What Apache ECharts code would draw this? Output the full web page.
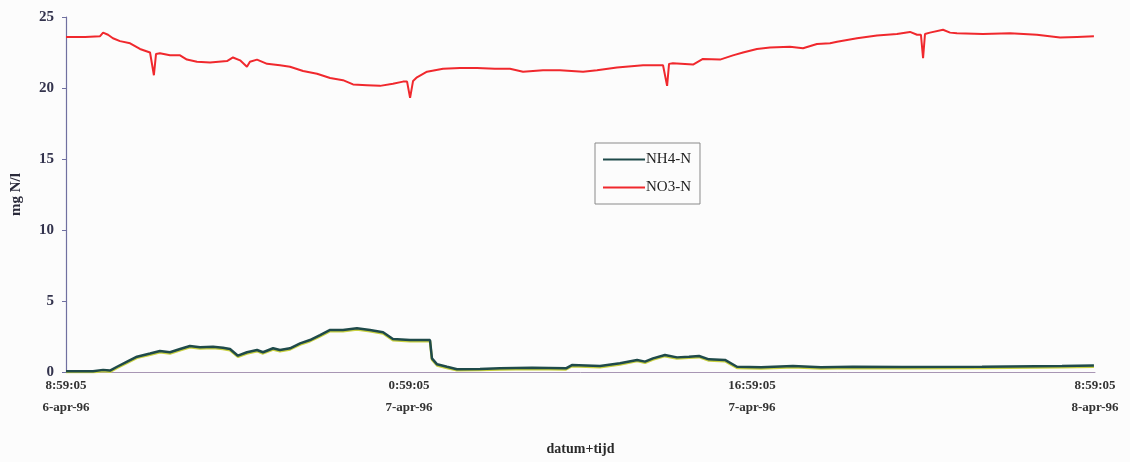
<!DOCTYPE html>
<html>
<head>
<meta charset="utf-8">
<script src="https://cdn.jsdelivr.net/npm/echarts@6/dist/echarts.min.js"></script>
<style>
  html, body { margin: 0; padding: 0; background: #fcfcfc; }
  #chart { width: 1130px; height: 462px; }
</style>
</head>
<body>
<div id="chart"></div>
<script>
// Hours since 6-apr-96 8:59:05
const xTickLabels = ['8:59:05\n6-apr-96', '0:59:05\n7-apr-96', '16:59:05\n7-apr-96', '8:59:05\n8-apr-96'];
const yTicks = [0, 5, 10, 15, 20, 25];

const no3Hours = [0, 0.89, 1.59, 1.73, 1.96, 2.19, 2.52, 2.99, 3.45, 3.92, 4.01, 4.10, 4.20, 4.38, 4.85, 5.32, 5.64, 6.11, 6.72, 7.51, 7.79, 8.12, 8.44, 8.58, 8.91, 9.38, 9.98, 10.45, 11.06, 11.71, 12.32, 12.92, 13.39, 14.04, 14.65, 15.25, 15.72, 15.91, 16.05, 16.19, 16.37, 16.84, 17.59, 18.38, 19.17, 20.01, 20.71, 21.32, 22.25, 23.04, 24.12, 24.77, 25.70, 26.92, 27.85, 27.94, 28.04, 28.13, 28.31, 29.25, 29.71, 30.51, 31.11, 31.58, 32.23, 32.84, 33.77, 34.38, 35.03, 35.64, 35.97, 36.90, 37.83, 38.76, 39.37, 39.70, 39.88, 39.98, 40.07, 40.30, 40.91, 41.24, 41.56, 42.77, 44.04, 45.29, 46.37, 47.16, 47.95];
const no3Values = [23.6, 23.6, 23.65, 23.9, 23.75, 23.5, 23.3, 23.15, 22.75, 22.5, 22.45, 20.9, 22.4, 22.45, 22.3, 22.3, 22.0, 21.85, 21.8, 21.9, 22.15, 21.95, 21.5, 21.85, 22.0, 21.7, 21.6, 21.5, 21.2, 21.0, 20.7, 20.55, 20.25, 20.2, 20.15, 20.3, 20.45, 20.45, 19.3, 20.5, 20.75, 21.15, 21.35, 21.4, 21.4, 21.35, 21.35, 21.15, 21.25, 21.25, 21.15, 21.25, 21.45, 21.6, 21.6, 21.55, 20.15, 21.7, 21.75, 21.65, 22.05, 22.0, 22.3, 22.5, 22.75, 22.85, 22.9, 22.8, 23.1, 23.15, 23.25, 23.5, 23.7, 23.8, 23.95, 23.75, 23.75, 22.1, 23.8, 23.9, 24.1, 23.9, 23.85, 23.8, 23.85, 23.75, 23.55, 23.6, 23.65];

const nh4Hours = [0, 1.26, 1.73, 2.05, 2.38, 2.85, 3.31, 3.92, 4.38, 4.85, 5.32, 5.78, 6.25, 6.86, 7.32, 7.65, 8.02, 8.44, 8.91, 9.19, 9.66, 9.98, 10.45, 10.92, 11.38, 11.85, 12.32, 12.92, 13.57, 14.18, 14.79, 15.25, 16.05, 16.98, 17.07, 17.31, 17.77, 18.24, 19.31, 20.24, 21.74, 23.32, 23.60, 24.91, 25.84, 26.64, 27.01, 27.38, 27.94, 28.50, 29.06, 29.53, 29.99, 30.74, 31.30, 32.42, 33.91, 35.22, 36.71, 39.00, 42.73, 46.46, 47.95];
const nh4Values = [0.05, 0.05, 0.15, 0.1, 0.37, 0.73, 1.08, 1.3, 1.48, 1.39, 1.62, 1.83, 1.74, 1.78, 1.71, 1.62, 1.15, 1.39, 1.55, 1.39, 1.67, 1.55, 1.67, 2.02, 2.25, 2.6, 2.96, 2.96, 3.08, 2.96, 2.8, 2.32, 2.25, 2.25, 0.96, 0.54, 0.37, 0.2, 0.22, 0.26, 0.3, 0.26, 0.49, 0.42, 0.61, 0.85, 0.73, 0.96, 1.2, 1.03, 1.08, 1.13, 0.89, 0.85, 0.37, 0.33, 0.42, 0.33, 0.37, 0.35, 0.37, 0.42, 0.45];

const zip = (xs, ys) => xs.map((x, i) => [x, ys[i]]);
const serif = '"Liberation Serif", "DejaVu Serif", serif';

const chart = echarts.init(document.getElementById('chart'), null, { renderer: 'canvas' });
chart.setOption({
  backgroundColor: '#fcfcfc',
  animation: false,
  grid: { left: 66, right: 35, top: 17, bottom: 90, containLabel: false },
  legend: {
    orient: 'vertical',
    left: 595,
    top: 143,
    padding: [9, 9, 9, 8],
    itemGap: 13,
    itemWidth: 42,
    itemHeight: 2,
    icon: 'rect',
    borderColor: '#8a8a8a',
    borderWidth: 1,
    backgroundColor: '#fcfcfc',
    textStyle: { fontFamily: serif, fontSize: 15, color: '#222', padding: [0, 0, 0, -4] },
    data: ['NH4-N', 'NO3-N']
  },
  xAxis: {
    type: 'value',
    min: 0,
    max: 48,
    interval: 16,
    name: 'datum+tijd',
    nameLocation: 'middle',
    nameGap: 70,
    nameTextStyle: { fontFamily: serif, fontWeight: 'bold', fontSize: 14, color: '#2a2a2a' },
    axisLine: { lineStyle: { color: '#a896b4', width: 1 } },
    axisTick: { show: false },
    splitLine: { show: false },
    axisLabel: {
      fontFamily: serif, fontWeight: 'bold', fontSize: 13, color: '#333',
      lineHeight: 22, margin: 3,
      showMaxLabel: true, showMinLabel: true,
      formatter: v => xTickLabels[Math.round(v / 16)] || ''
    }
  },
  yAxis: {
    type: 'value',
    min: yTicks[0],
    max: yTicks[yTicks.length - 1],
    interval: 5,
    name: 'mg N/l',
    nameLocation: 'middle',
    nameRotate: 90,
    nameGap: 42,
    nameTextStyle: { fontFamily: serif, fontWeight: 'bold', fontSize: 15, color: '#2a2a3a' },
    axisLine: { show: true, lineStyle: { color: '#7070a0', width: 1.2 } },
    axisTick: { show: true, length: 4, lineStyle: { color: '#7070a0' } },
    splitLine: { show: false },
    axisLabel: { fontFamily: serif, fontWeight: 'bold', fontSize: 15, color: '#33334d', margin: 12 }
  },
  series: [
    {
      name: 'NH4-N', type: 'line', showSymbol: false, symbol: 'none',
      data: zip(nh4Hours, nh4Values),
      itemStyle: { color: '#1f4a4a' },
      lineStyle: { color: '#1f4a4a', width: 2.5, shadowColor: '#c8d040', shadowOffsetY: 1.2, shadowBlur: 0 },
      z: 3
    },
    {
      name: 'NO3-N', type: 'line', showSymbol: false, symbol: 'none',
      data: zip(no3Hours, no3Values),
      itemStyle: { color: '#f0282d' },
      lineStyle: { color: '#f0282d', width: 2 },
      z: 2
    }
  ]
});
</script>
</body>
</html>
